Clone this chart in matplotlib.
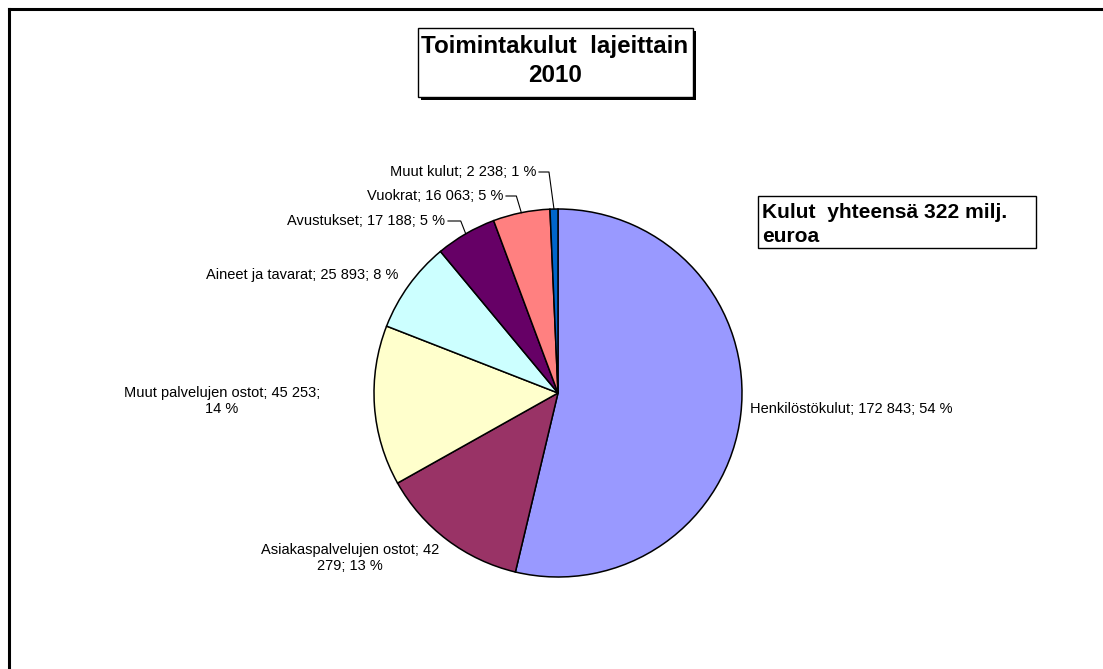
import numpy as np
import matplotlib.pyplot as plt
from matplotlib.patches import Rectangle

plt.rcParams['font.family'] = ['Liberation Sans', 'DejaVu Sans']
plt.rcParams['font.stretch'] = 'normal'

# data
categories = ['Henkilöstökulut', 'Asiakaspalvelujen ostot', 'Muut palvelujen ostot',
              'Aineet ja tavarat', 'Avustukset', 'Vuokrat', 'Muut kulut']
values = [172843, 42279, 45253, 25893, 17188, 16063, 2238]
colors = ['#9999FF', '#993366', '#FFFFCC', '#CCFFFF', '#660066', '#FF8080', '#0066CC']

title_lines = ['Toimintakulut  lajeittain', '2010']
note_lines = ['Kulut  yhteensä 322 milj.', 'euroa']

# where Excel wrapped two of the labels
wrap_at = {'Muut palvelujen ostot': ('45 253; ', '45 253;\n'),
           'Asiakaspalvelujen ostot': ('42 279', '42\n279')}

W, H = 1103, 669
fig = plt.figure(figsize=(W / 100, H / 100), dpi=100)
ax = fig.add_axes([0, 0, 1, 1])

cx, cy, r = 558, 393, 184
# y axis is inverted below, so counterclock in data = clockwise on screen
wedges, _ = ax.pie(values, colors=colors, center=(cx, cy), radius=r,
                   startangle=-90, counterclock=True,
                   wedgeprops=dict(edgecolor='black', linewidth=1.1))
ax.set_xlim(0, W)
ax.set_ylim(H, 0)
ax.set_aspect('auto')
ax.axis('off')

total = sum(values)

# label placement (x, y, alignment)
label_pos = {
    'Henkilöstökulut': (750, 409, 'left'),
    'Asiakaspalvelujen ostot': (350, 558, 'center'),
    'Muut palvelujen ostot': (222, 401, 'center'),
    'Aineet ja tavarat': (398, 275, 'right'),
    'Avustukset': (445, 221, 'right'),
    'Vuokrat': (503, 196, 'right'),
    'Muut kulut': (536, 172, 'right'),
}
with_leader = ['Avustukset', 'Vuokrat', 'Muut kulut']

for name, val, w in zip(categories, values, wedges):
    pct = int(round(val / total * 100))
    txt = f'{name}; {val:,}'.replace(',', ' ') + f'; {pct} %'
    if name in wrap_at:
        a, b = wrap_at[name]
        txt = txt.replace(a, b)
    x, y, ha = label_pos[name]
    ax.text(x, y, txt, ha=ha, va='center', fontsize=10.5, linespacing=1.15)
    if name in with_leader:
        mid = np.deg2rad((w.theta1 + w.theta2) / 2)
        ex = cx + r * np.cos(mid)
        ey = cy + r * np.sin(mid)
        ax.plot([x + 3, ex - 5, ex], [y, y, ey], color='black', lw=0.8)

bold = dict(fontweight='bold', fontstretch='normal')

# title box with shadow
ax.add_patch(Rectangle((421, 31), 275, 69, facecolor='black', edgecolor='none'))
ax.add_patch(Rectangle((418, 28), 275, 69, facecolor='white', edgecolor='black', lw=1))
ax.text(555, 47, title_lines[0], ha='center', va='center', fontsize=17.4, **bold)
ax.text(555, 76, title_lines[1], ha='center', va='center', fontsize=17.4, **bold)

# total box
ax.add_patch(Rectangle((758, 196), 278, 52, facecolor='white', edgecolor='black', lw=1))
ax.text(762, 212, note_lines[0], ha='left', va='center', fontsize=15.1, **bold)
ax.text(762, 237, note_lines[1], ha='left', va='center', fontsize=15.1, **bold)

# outer frame (only left and top visible)
ax.plot([8.5, 8.5], [H + 5, 8.5], color='black', lw=2.2, clip_on=False, solid_capstyle='projecting')
ax.plot([8.5, W + 5], [8.5, 8.5], color='black', lw=2.2, clip_on=False, solid_capstyle='projecting')

fig.savefig('out.png', dpi=100, facecolor='white')
